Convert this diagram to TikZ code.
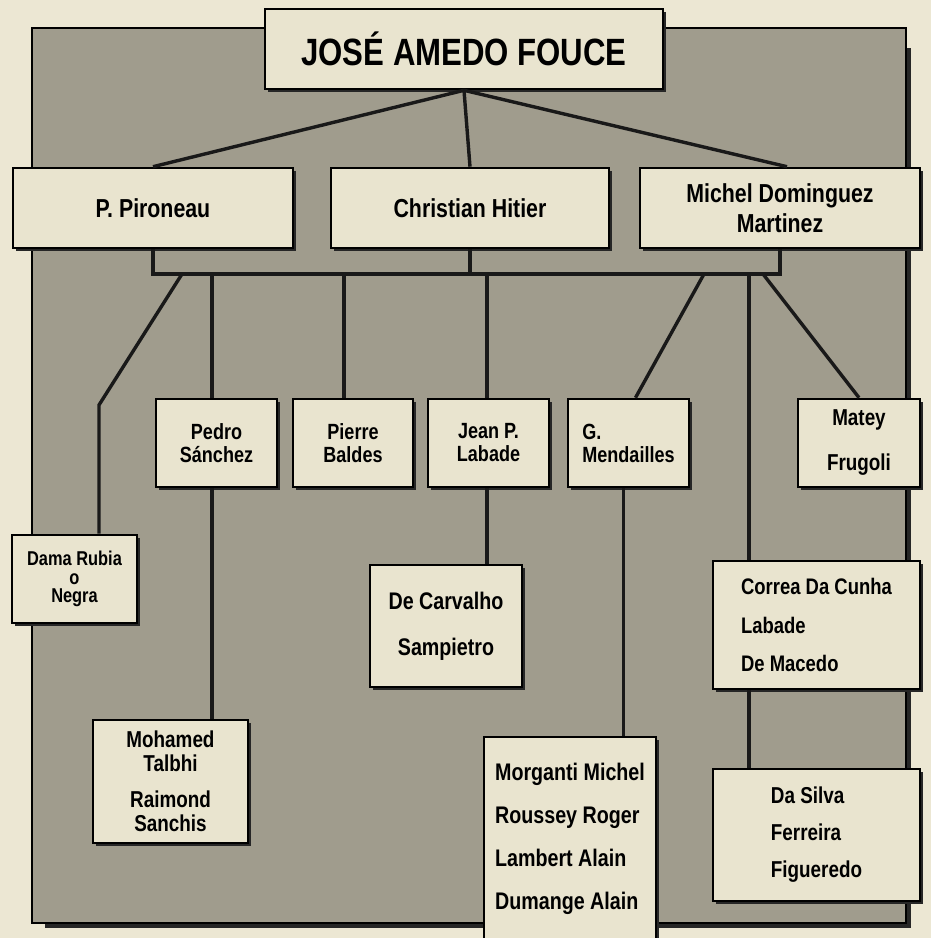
\documentclass[tikz,border=0pt]{standalone}
\usepackage{fontspec}
\setmainfont{Liberation Sans}
\newfontfamily\narrowsf[FakeStretch=0.82]{Liberation Sans}
\usepackage{tikz}
\usetikzlibrary{calc, positioning, shadows}

\definecolor{paper}{RGB}{236,231,211}
\definecolor{panel}{RGB}{160,156,141}
\definecolor{boxfill}{RGB}{233,228,207}
\newcommand\orgfont[2]{\fontsize{#1}{#2}\selectfont\narrowsf\bfseries}

\begin{document}
\begin{tikzpicture}[x=1pt, y=-1pt,
    box/.style={draw=black, line width=2.6pt, fill=boxfill, inner sep=0pt,
      drop shadow={shadow xshift=3pt, shadow yshift=-3pt, fill=black!85, opacity=1}},
    wire/.style={line width=3.4pt, draw=black!90}]
    \fill[paper] (0,0) rectangle (931,938);
    \useasboundingbox (0,0) rectangle (931,938);

    \fill[black!85] (45,48) rectangle (911,928);
    \draw[fill=panel, line width=2pt] (32,28) rectangle (906,923);

    \node[box, minimum width=398, minimum height=80, font=\orgfont{38}{40}] (top) at (464,49) {JOSÉ AMEDO FOUCE};

    \node[box, minimum width=280, minimum height=80, font=\orgfont{26}{30}] (piro) at (153,208) {P. Pironeau};
    \node[box, minimum width=278, minimum height=80, font=\orgfont{26}{30}] (hitier) at (470,208) {Christian Hitier};
    \node[box, minimum width=280, minimum height=80, align=center, font=\orgfont{26}{30}] (michel) at (780,208) {Michel Dominguez\\Martinez};

    \node[box, minimum width=121, minimum height=88, align=center, font=\orgfont{22}{23}] (pedro) at (216.5,443) {Pedro\\Sánchez};
    \node[box, minimum width=120, minimum height=88, align=center, font=\orgfont{22}{23}] (pierre) at (353,443) {Pierre\\Baldes};
    \node[box, minimum width=121, minimum height=88, align=center, font=\orgfont{22}{23}] (jean) at (488.5,443) {Jean P.\\Labade};
    \node[box, minimum width=121, minimum height=88, align=left, font=\orgfont{22}{23}] (mend) at (628.5,443) {G.\\Mendailles};
    \node[box, minimum width=122, minimum height=88, align=center, font=\orgfont{23}{45}] (matey) at (859,443) {Matey\\Frugoli};

    \node[box, minimum width=125, minimum height=88, align=center, font=\orgfont{20}{18.5}] (dama) at (74.5,579) {Dama Rubia\\o\\Negra};
    \node[box, minimum width=152, minimum height=122, align=center, font=\orgfont{24}{46}] (carv) at (446,626) {De Carvalho\\Sampietro};
    \node[box, minimum width=207, minimum height=128, align=left, font=\orgfont{22.5}{38.5}] (correa) at (816.5,625) {Correa Da Cunha\\Labade\\De Macedo};

    \node[box, minimum width=155, minimum height=123, align=center, font=\orgfont{23}{24}] (moha) at (170.5,781.5) {Mohamed\\Talbhi\\[12pt]Raimond\\Sanchis};
    \node[box, minimum width=172, minimum height=203, align=left, font=\orgfont{24}{43}] (morg) at (570,838.5) {Morganti Michel\\Roussey Roger\\Lambert Alain\\Dumange Alain};
    \node[box, minimum width=207, minimum height=132, align=left, font=\orgfont{23}{37}] (dasilva) at (816.5,835) {Da Silva\\Ferreira\\Figueredo};

    \draw[wire] (top.south) -- (piro.north);
    \draw[wire] (top.south) -- (hitier.north);
    \draw[wire] (top.south) -- ($(michel.north)+(7,0)$);

    \coordinate (bus) at (0,274);
    \draw[wire] (piro.south) -- (piro.south |- bus) -- (michel.south |- bus) -- (michel.south);
    \draw[wire] (hitier.south) -- (hitier.south |- bus);

    \coordinate (b1) at (182,274);
    \coordinate (b2) at (212,274);
    \coordinate (b3) at (344,274);
    \coordinate (b4) at (487,274);
    \coordinate (b6) at (704,274);
    \coordinate (b7) at (749,274);
    \coordinate (b8) at (763,274);
    \coordinate (dbend) at (99,405);

    \draw[wire] (b1) -- (dbend) -- (dbend |- dama.north);
    \draw[wire] (b2) -- (b2 |- pedro.north);
    \draw[wire] (b2 |- pedro.south) -- (b2 |- moha.north);
    \draw[wire] (b3) -- (b3 |- pierre.north);
    \draw[wire] (b4) -- (b4 |- jean.north);
    \draw[wire] (b4 |- jean.south) -- (b4 |- carv.north);
    \draw[wire] (b6) -- ($(mend.north)+(7,0)$);
    \draw[wire] ($(mend.south)+(-5,0)$) coordinate (m1) -- (m1 |- morg.north);
    \draw[wire] (b8) -- (matey.north);
    \draw[wire] (b7) -- (b7 |- correa.north);
    \draw[wire] (b7 |- correa.south) -- (b7 |- dasilva.north);
\end{tikzpicture}
\end{document}
